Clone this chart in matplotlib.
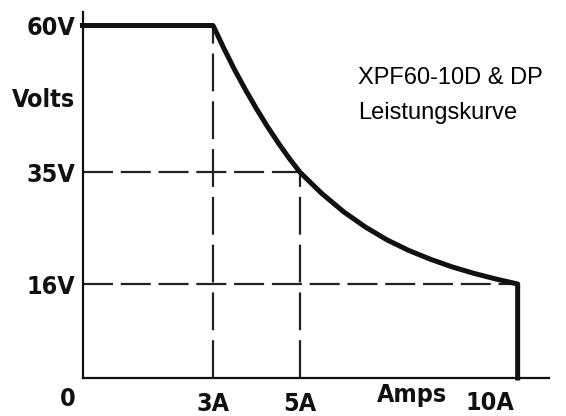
import matplotlib
matplotlib.use("Agg")
import matplotlib.pyplot as plt

# power curve (amps, volts)
amps = [0, 3, 3.25, 3.5, 3.75, 4, 4.25, 4.5, 4.75, 5, 5.5, 6, 6.5, 7, 7.5, 8, 8.5, 9, 9.5, 10, 10]
volts = [60, 60, 56.1, 52.4, 49, 45.8, 42.8, 40, 37.4, 35, 31.4, 28.3, 25.7, 23.5, 21.7,
         20.2, 18.9, 17.8, 16.85, 16, 0]

# dashed guide lines
v_guides = [(3, 60), (5, 35)]      # (amps, top volts)
h_guides = [(35, 5), (16, 10)]     # (volts, right amps)

y_ticks = [16, 35, 60]
y_labels = ["16V", "35V", "60V"]
x_ticks = [3, 5]
x_labels = ["3A", "5A"]

title_lines = ["XPF60-10D & DP", "Leistungskurve"]

W, H = 566, 416
fig = plt.figure(figsize=(W / 100, H / 100), dpi=100)
ax = fig.add_axes([82.5 / W, (H - 378) / H, 466.5 / W, 366 / H])
ax.set_xlim(0, 10.72)
ax.set_ylim(0, 62.3)

lab = dict(family="DejaVu Sans", fontstretch="condensed", fontweight="bold",
           fontsize=18, color="#111111")

for x, top in v_guides:
    ax.plot([x, x], [0, top], color="#222222", lw=1.6, dashes=(17, 4.5), clip_on=False)
for y, right in h_guides:
    ax.plot([0, right], [y, y], color="#222222", lw=1.6, dashes=(13.5, 3.5), clip_on=False)

ax.plot(amps, volts, color="#111111", lw=3.6, solid_joinstyle="round", clip_on=False)

for s in ["top", "right"]:
    ax.spines[s].set_visible(False)
for s in ["left", "bottom"]:
    ax.spines[s].set_linewidth(1.6)
    ax.spines[s].set_color("#111111")

ax.set_yticks(y_ticks)
ax.set_yticklabels(y_labels, **lab)
ax.set_xticks(x_ticks)
ax.set_xticklabels(x_labels, **lab)
ax.tick_params(axis="both", length=0)
ax.tick_params(axis="y", pad=5)
ax.tick_params(axis="x", pad=10)

fig.text(68 / W, 1 - 399 / H, "0", ha="center", va="center", **lab)
fig.text(43 / W, 1 - 100 / H, "Volts", ha="center", va="center", **lab)
fig.text(412 / W, 1 - 395 / H, "Amps", ha="center", va="center", **lab)
fig.text(490 / W, 1 - 403 / H, "10A", ha="center", va="center", **lab)

fig.text(358 / W, 1 - 78 / H, title_lines[0], family="Liberation Sans", fontsize=17, va="center")
fig.text(358 / W, 1 - 113 / H, title_lines[1], family="Liberation Sans", fontsize=17, va="center")

fig.savefig("out.png", dpi=100)
